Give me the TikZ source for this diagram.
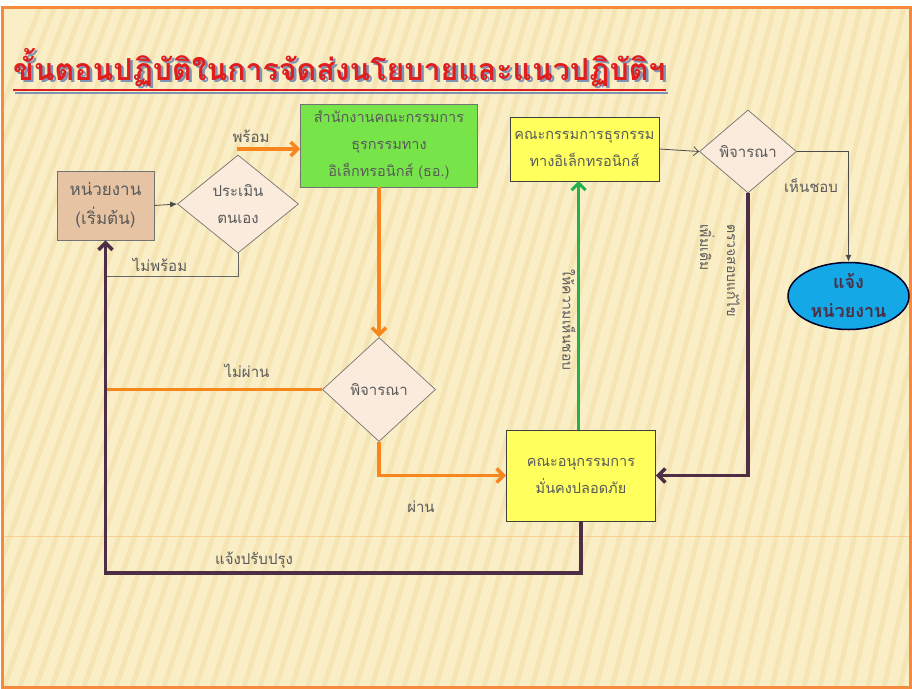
\documentclass[tikz,border=0pt]{standalone}
\usepackage{fontspec}
\newfontfamily\thaifont[Script=Thai]{Loma}
\usetikzlibrary{arrows.meta,shapes.geometric}
\definecolor{bgc}{HTML}{FAEEC6}
\definecolor{bgs}{HTML}{F1DFA8}
\definecolor{frame}{HTML}{F58A3C}
\definecolor{tanf}{HTML}{E6C3A3}
\definecolor{diaf}{HTML}{FBEBDC}
\definecolor{grnf}{HTML}{77E54A}
\definecolor{ylwf}{HTML}{FFFF5E}
\definecolor{ellf}{HTML}{14A9E6}
\definecolor{txt}{HTML}{5A5A5A}
\definecolor{purp}{HTML}{4E2E45}
\definecolor{orng}{HTML}{F7861E}
\definecolor{grnl}{HTML}{21B24B}
\definecolor{titred}{HTML}{E01E1E}
\definecolor{titsh}{HTML}{7F93B5}
\tikzset{
  boxs/.style={draw=black!55, line width=0.7pt, align=center, inner sep=0pt, text=txt,
    font=\thaifont\fontsize{14.5}{27}\selectfont},
  dia/.style={diamond, draw=black!55, line width=0.7pt, fill=diaf, align=center, inner sep=0pt,
    text=txt, font=\thaifont\fontsize{15}{27}\selectfont},
  lbl/.style={text=txt, font=\thaifont\fontsize{15}{18}\selectfont, inner sep=1pt},
  rlbl/.style={text=txt, font=\thaifont\fontsize{14}{27}\selectfont, inner sep=0pt, rotate=-90},
  orngarrow/.style={draw=orng, line width=3.5pt, -{Straight Barb[length=7pt,width=14pt]}},
  orngline/.style={draw=orng, line width=3.5pt},
  purparrow/.style={draw=purp, line width=3.5pt, -{Straight Barb[length=7pt,width=14pt]}},
  grnarrow/.style={draw=grnl, line width=3pt, -{Straight Barb[length=7pt,width=14pt]}},
  thinline/.style={draw=black!60, line width=0.8pt},
  thinarrow/.style={draw=black!70, line width=0.8pt, -{Latex[length=7pt,width=6pt]}},
  openarrow/.style={draw=black!70, line width=0.8pt, -{Straight Barb[length=5pt,width=9pt]}}
}
\begin{document}
\begin{tikzpicture}[x=1pt,y=-1pt]
\useasboundingbox (0,0) rectangle (912,688);
\fill[white] (0,0) rectangle (912,688);
\fill[bgc] (2,7) rectangle (910,687);
\begin{scope}
  \clip (2,7) rectangle (910,687);
  \foreach \i in {0,16,...,1200} {
    \draw[bgs, line width=5pt, opacity=0.55] ({\i-220},687) -- ({\i*0.9+40},7);
  }
\end{scope}
\draw[draw=frame, line width=3pt] (2,7) rectangle (910,687);
\draw[draw=orange!60, line width=1pt, opacity=0.5] (3,536) -- (909,536);

% title
\node[inner sep=0pt, anchor=south west, text=titsh] (titleshadow) at (15.5,89.5)
  {\resizebox{652pt}{!}{\thaifont\bfseries ขั้นตอนปฏิบัติในการจัดส่งนโยบายและแนวปฏิบัติฯ}};
\node[inner sep=0pt, anchor=south west, text=titred] (title) at (13,87)
  {\resizebox{652pt}{!}{\thaifont\bfseries ขั้นตอนปฏิบัติในการจัดส่งนโยบายและแนวปฏิบัติฯ}};
\draw[titsh, line width=2pt] (15,93) -- (668,93);
\draw[titred, line width=2.5pt] (13,90) -- (666,90);

% nodes
\node[boxs, fill=tanf, minimum width=97pt, minimum height=69pt, font=\thaifont\fontsize{17}{29}\selectfont] (unit) at (105.5,205.5) {หน่วยงาน\\(เริ่มต้น)};
\node[dia, minimum width=121pt, minimum height=98pt] (eval) at (238,204) {ประเมิน\\ตนเอง};
\node[boxs, fill=grnf, minimum width=177pt, minimum height=83pt] (office) at (389,145.5)
  {สำนักงานคณะกรรมการ\\ธุรกรรมทาง\\อิเล็กทรอนิกส์ (ธอ.)};
\node[dia, minimum width=113pt, minimum height=104pt] (cons) at (379,389.5) {พิจารณา};
\node[boxs, fill=ylwf, draw=black!75, minimum width=149pt, minimum height=91pt] (sub) at (581,475.5)
  {คณะอนุกรรมการ\\มั่นคงปลอดภัย};
\node[boxs, fill=ylwf, draw=black!75, minimum width=149pt, minimum height=64pt] (comm) at (584.5,149)
  {คณะกรรมการธุรกรรม\\ทางอิเล็กทรอนิกส์};
\node[dia, minimum width=97pt, minimum height=83pt] (cons2) at (748,151.5) {พิจารณา};
\node[ellipse, draw=black!85!blue, line width=1.5pt, fill=ellf, minimum width=121pt, minimum height=67pt,
  inner sep=0pt, align=center, text=purp, font=\thaifont\bfseries\fontsize{18}{29}\selectfont] (notify) at (848.5,296)
  {แจ้ง\\หน่วยงาน};

% junction coordinates on the feedback line
\coordinate (jfail) at (unit.south |- cons.west);
\coordinate (jnr) at (105.5,276);
\coordinate (rdy) at (236.5,149);

% connectors
\draw[thinarrow] (unit.east) -- (eval.west);
\draw[orngarrow] (rdy) -- (rdy -| office.west);
\draw[thinline] (eval.south) |- (jnr);
\draw[orngarrow] (office.south -| cons.north) -- (cons.north);
\draw[orngline] (cons.west) -- (jfail);
\draw[orngarrow] (cons.south) |- (sub.west);
\draw[purparrow] (sub.south) -- (581,573) -| (unit.south);
\draw[grnarrow] (578.5,430) -- (578.5,181);
\draw[openarrow] (comm.east) -- (cons2.west);
\draw[thinarrow] (cons2.east) -| (notify.north);
\draw[purparrow] (cons2.south) |- (sub.east);

% labels
\node[lbl] (lready) at (251,136) {พร้อม};
\node[lbl] (lnotready) at (160,265) {ไม่พร้อม};
\node[lbl] (lfail) at (247,371) {ไม่ผ่าน};
\node[lbl] (lpass) at (421,507) {ผ่าน};
\node[lbl] (limprove) at (254,560) {แจ้งปรับปรุง};
\node[lbl] (lagree) at (811,186) {เห็นชอบ};
\node[rlbl] (lgreen) at (569,320) {ให้ความเห็นชอบ};
\node[rlbl, align=left, anchor=north west] (lpurp) at (740,224) {ตรวจสอบแก้ไข\\เพิ่มเติม};
\end{tikzpicture}
\end{document}
